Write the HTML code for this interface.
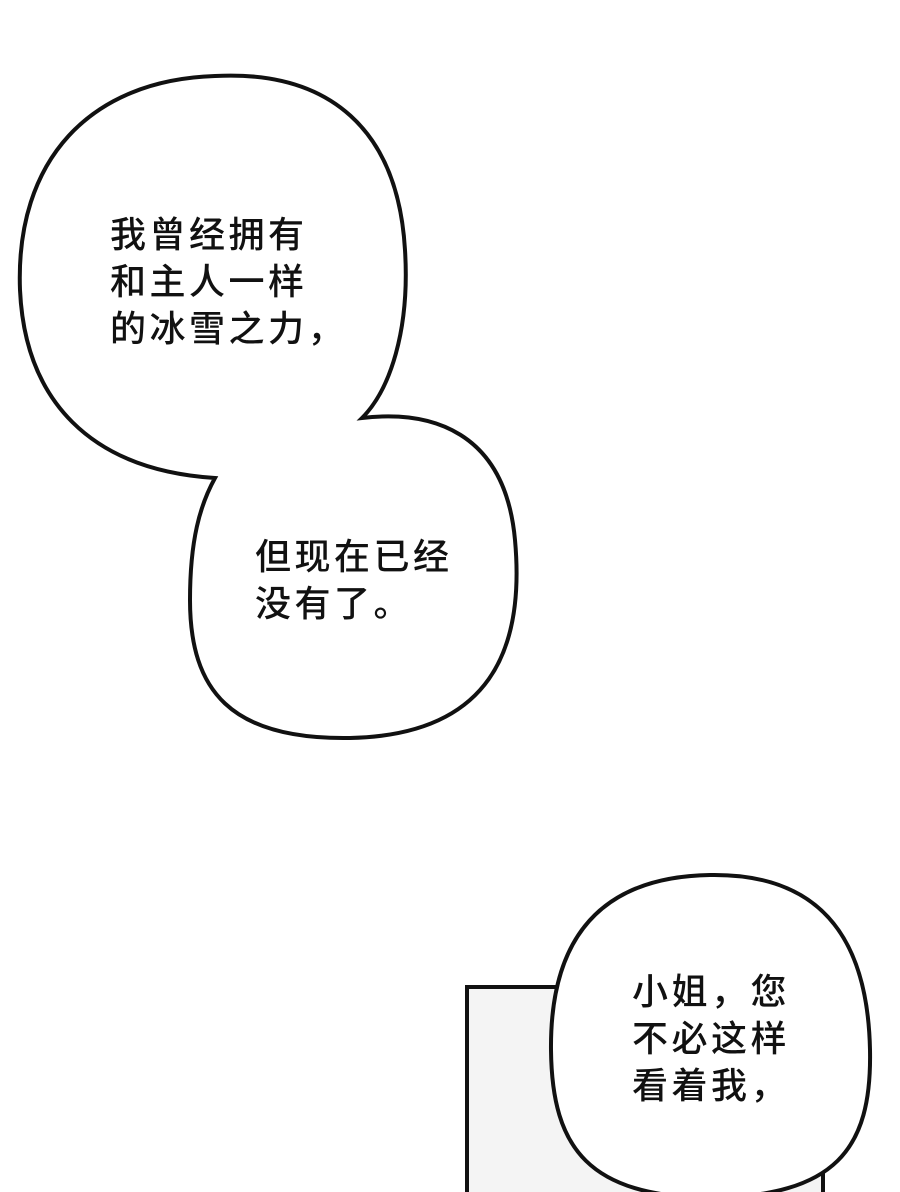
<!DOCTYPE html>
<html><head><meta charset="utf-8"><style>
html,body{margin:0;padding:0;background:#fff;}
body{width:900px;height:1192px;position:relative;overflow:hidden;}
svg{position:absolute;left:0;top:0;}
.t{position:absolute;font-family:"Liberation Sans","Noto Sans CJK SC",sans-serif;font-size:36px;font-weight:500;line-height:47px;color:#111;white-space:nowrap;letter-spacing:3.5px;}
</style></head><body>
<svg width="900" height="1192" viewBox="0 0 900 1192">
<path d="M 215 76 C 330 70 398 130 405 250 C 410 330 390 390 362 418 C 430 410 505 430 515 540 C 525 650 490 735 350 738 C 230 740 190 690 190 600 C 190 540 200 505 215 478 C 90 470 25 400 20 290 C 15 160 90 80 215 76 Z" fill="#fff" stroke="#111" stroke-width="4"/>
<rect x="467" y="987" width="356" height="220" fill="#f4f4f4" stroke="#111" stroke-width="4"/>
<path d="M 710 875 C 830 873 868 950 870 1050 C 872 1150 835 1196 710 1198 C 590 1196 552 1150 551 1050 C 550 950 590 877 710 875 Z" fill="#fff" stroke="#111" stroke-width="4"/>
</svg>
<div class="t" style="left:110px;top:211px;">我曾经拥有<br>和主人一样<br>的冰雪之力，</div>
<div class="t" style="left:255px;top:533px;">但现在已经<br>没有了。</div>
<div class="t" style="left:632px;top:968px;">小姐，您<br>不必这样<br>看着我，</div>
</body></html>
